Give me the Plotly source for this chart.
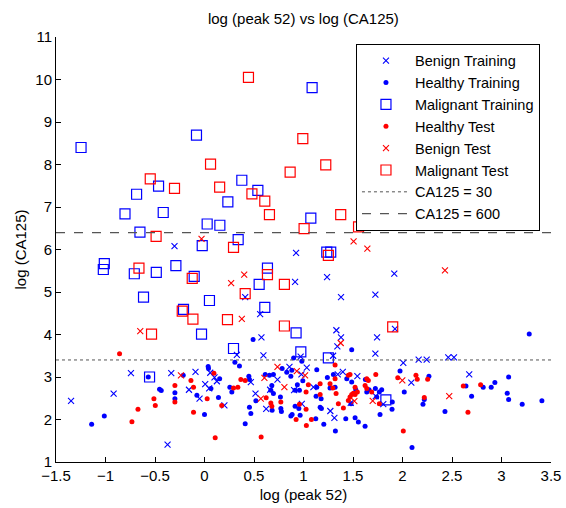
import plotly.graph_objects as go

# ---- data (log peak 52, log CA125) ----
benign_train_x = [-0.303, 0.925, 0.915, 1.238, 1.379, 1.726, 0.411, 0.562, 1.332, 1.379, 0.575, 1.743,
                  1.342, 0.327, 0.595, 0.971, 1.299, 1.726, 1.917, 1.924, 2.163, 2.244, 2.462, 2.520,
                  -1.348, -0.918, -0.743, -0.336, -0.373, -0.091, -0.157, -0.050, 0.007, 0.047, 0.058,
                  0.101, 0.125, 0.201, 0.468, 0.515, 0.663, 0.737, 0.858, 0.979, 1.033, 0.905, 0.983,
                  1.100, 0.623, 1.271, 1.312, 1.346, 1.397, 1.544, 1.477, 1.730, 1.806, 2.008, 2.089, 2.674]
benign_train_y = [6.08, 5.92, 5.24, 5.35, 4.88, 4.94, 4.88, 4.48, 4.10, 3.93, 3.93, 3.93,
                  3.72, 3.52, 3.51, 3.48, 3.50, 3.55, 5.43, 4.13, 3.41, 3.41, 3.46, 3.46,
                  2.44, 2.61, 3.09, 3.09, 1.41, 3.12, 2.70, 2.49, 2.83, 2.73, 3.10,
                  2.99, 2.90, 2.33, 2.88, 2.61, 2.70, 2.94, 3.24, 3.06, 3.22, 2.69, 2.37,
                  2.76, 2.25, 2.20, 2.04, 3.06, 3.12, 3.02, 2.39, 2.55, 2.36, 3.33, 2.87, 3.06]

healthy_train_x = [0.491, 1.487, 0.900, 3.280, 2.096, -0.568, -0.454, -0.437, -0.299, -0.299, -1.012, -1.140,
                   -0.215, -0.077, 0.000, 0.037, 0.040, 0.153, 0.065, 0.141, 0.256, 0.307, 0.353, 0.983,
                   1.134, 0.784, 0.831, 0.882, 0.872, 0.613, 0.656, 0.696, 0.448, 0.454, 0.276, 0.680,
                   0.670, 0.696, 0.938, 0.993, 0.915, 0.959, 1.134, 1.241, 1.302, 1.268, 1.319, 1.127,
                   1.178, 1.168, 1.181, 1.437, 1.487, 1.528, 1.480, 1.625, 1.639, 1.662, 1.726, 1.766,
                   1.790, 1.740, 1.773, 1.622, 1.554, 1.521, 1.427, 1.322, 1.205, 1.124, 0.966, 0.885,
                   0.872, 0.953, 0.915, 0.771, 0.777, 0.767, 0.683, 0.519, 0.454, 0.468, 0.411, 1.897,
                   1.894, 1.975, 2.018, 2.267, 2.220, 2.207, 2.429, 2.641, 2.698, 2.815, 2.896, 2.933,
                   3.072, 3.058, 3.072, 3.209, 3.408]
healthy_train_y = [3.88, 3.64, 3.45, 4.01, 1.34, 3.00, 2.71, 2.68, 2.63, 2.49, 2.08, 1.89,
                   3.04, 2.57, 2.12, 3.25, 3.20, 2.96, 2.73, 2.52, 2.76, 3.35, 3.26, 3.37,
                   3.17, 3.20, 3.11, 3.16, 3.02, 3.06, 3.04, 3.06, 3.02, 2.94, 2.65, 2.80,
                   2.69, 2.61, 2.82, 2.91, 2.69, 2.69, 2.76, 2.99, 3.06, 2.74, 2.76, 2.55,
                   2.49, 2.29, 2.26, 2.96, 2.88, 2.70, 2.37, 2.94, 2.65, 2.70, 2.73, 2.65,
                   2.70, 2.53, 2.12, 1.84, 1.94, 2.04, 2.02, 1.73, 1.89, 2.02, 2.10, 2.12,
                   2.08, 2.26, 2.31, 2.26, 2.19, 2.53, 2.22, 2.44, 2.29, 2.14, 1.90, 2.41,
                   2.24, 3.14, 2.65, 3.02, 2.47, 2.36, 2.19, 2.79, 2.55, 2.76, 2.76, 2.87,
                   3.00, 2.62, 2.47, 2.36, 2.44]

malig_train_x = [-1.247, -0.081, 1.087, 0.377, -0.464, -0.686, 0.539, 0.236, -0.803, -0.417, 0.027, 0.155,
                 -0.652, 0.340, -0.023, 1.074, -1.012, -1.022, -0.709, -0.487, -0.289, -0.104, -0.616,
                 0.050, -0.212, -0.030, 0.293, 0.636, 0.552, 0.609, 0.925, 1.235, 1.275, 0.973, 1.251,
                 -0.555, 1.832]
malig_train_y = [8.40, 8.69, 9.81, 7.63, 7.49, 7.30, 7.39, 7.12, 6.84, 6.87, 6.60, 6.57,
                 6.41, 6.23, 6.09, 6.74, 5.67, 5.53, 5.43, 5.46, 5.62, 5.37, 4.88,
                 4.80, 4.59, 4.01, 3.67, 5.56, 5.18, 4.64, 4.04, 5.94, 5.94, 3.59, 3.45,
                 3.00, 2.46]

healthy_test_x = [-0.858, -0.299, -0.299, -0.511, -0.497, -0.672, -0.733, -0.137, -0.111, -0.111, 0.027,
                  0.095, 0.174, 0.108, 1.319, 0.367, 0.411, 0.293, 0.337, 1.049, 1.026, 1.168, 1.268,
                  1.319, 1.296, 1.329, 1.168, 1.352, 1.403, 1.453, 1.470, 1.521, 1.504, 1.487, 1.521,
                  1.544, 1.470, 1.453, 1.639, 1.655, 1.730, 1.622, 1.639, 1.689, 1.766, 1.080, 1.029,
                  0.925, 1.026, 0.959, 0.771, 0.670, 0.680, 0.623, 0.572, 1.952, 2.136, 2.149, 2.254,
                  2.220, 2.008, 2.614, 2.661, 2.789]
healthy_test_y = [3.55, 2.80, 2.41, 2.49, 2.33, 2.24, 1.95, 2.92, 2.76, 2.17, 2.49,
                  3.09, 2.33, 1.57, 3.28, 2.94, 2.92, 2.74, 2.76, 2.82, 2.65, 2.84, 2.84,
                  2.96, 2.74, 2.61, 2.59, 2.37, 2.27, 3.04, 3.06, 2.76, 2.62, 2.59, 2.59,
                  2.65, 2.53, 2.45, 2.96, 2.92, 3.06, 2.80, 2.73, 2.65, 2.37, 2.00, 1.86,
                  2.00, 2.24, 2.36, 2.41, 2.39, 2.31, 2.51, 1.59, 2.98, 3.04, 2.95, 2.95,
                  2.52, 1.73, 2.79, 2.17, 2.82]

benign_test_x = [-0.030, 1.506, -0.649, 0.269, 1.645, 0.401, 0.377, 1.376, 2.429, -0.238, 0.737,
                 0.932, 1.016, 0.605, 0.807, 0.569, 1.514, 1.699, 1.998, 2.472]
benign_test_y = [6.25, 6.19, 4.08, 5.21, 6.02, 5.41, 4.37, 3.80, 5.51, 3.04, 3.24,
                 3.14, 3.04, 2.98, 2.76, 2.49, 2.43, 2.44, 2.92, 2.55]

malig_test_x = [0.444, 0.061, -0.548, -0.303, 0.153, 0.479, -0.489, 0.293, 0.993, 1.225, 0.865, 0.609,
                0.656, 1.376, 1.006, 1.556, -0.662, -0.124, -0.225, -0.117, -0.535, 0.232, 0.636,
                0.807, 0.411, 0.807, 1.251, 1.901]
malig_test_y = [10.05, 8.01, 7.66, 7.44, 7.47, 7.31, 6.31, 6.05, 8.61, 7.99, 7.82, 7.14,
                6.82, 6.82, 6.49, 6.53, 5.56, 5.32, 4.55, 4.36, 4.01, 4.35, 5.41,
                5.18, 4.96, 4.20, 5.86, 4.18]

x_range = [-1.5, 3.5]
cut_low = 3.401   # log(30)
cut_high = 6.397  # log(600)

BLUE = "rgb(0,0,255)"
RED = "rgb(255,0,0)"
FAMILY = "Liberation Sans, Arial, sans-serif"

fig = go.Figure()

def xs(name, x, y, color, group):
    fig.add_trace(go.Scatter(x=x, y=y, mode="markers", name=name, legendgroup=group,
                             marker=dict(symbol="x-thin", size=6, color=color,
                                         line=dict(width=1.1, color=color))))

def dots(name, x, y, color, group):
    fig.add_trace(go.Scatter(x=x, y=y, mode="markers", name=name, legendgroup=group,
                             marker=dict(symbol="circle", size=5, color=color,
                                         line=dict(width=0))))

def squares(name, x, y, color, group):
    fig.add_trace(go.Scatter(x=x, y=y, mode="markers", name=name, legendgroup=group,
                             marker=dict(symbol="square-open", size=10, color=color,
                                         line=dict(width=1.2, color=color))))

xs("Benign Training", benign_train_x, benign_train_y, BLUE, "g1")
dots("Healthy Training", healthy_train_x, healthy_train_y, BLUE, "g2")
squares("Malignant Training", malig_train_x, malig_train_y, BLUE, "g3")
dots("Healthy Test", healthy_test_x, healthy_test_y, RED, "g4")
xs("Benign Test", benign_test_x, benign_test_y, RED, "g5")
squares("Malignant Test", malig_test_x, malig_test_y, RED, "g6")

fig.add_trace(go.Scatter(x=x_range, y=[cut_low, cut_low], mode="lines", name="CA125 = 30",
                         legendgroup="g7", line=dict(color="#555555", width=1, dash="dot")))
fig.add_trace(go.Scatter(x=x_range, y=[cut_high, cut_high], mode="lines", name="CA125 = 600",
                         legendgroup="g8", line=dict(color="#555555", width=1.2, dash="dash")))

fig.update_layout(
    width=566, height=508,
    margin=dict(l=56, r=15, t=37, b=46, autoexpand=False),
    paper_bgcolor="white", plot_bgcolor="white",
    font=dict(family=FAMILY, size=15, color="black"),
    title=dict(text="log (peak 52) vs log (CA125)", x=0.536, xanchor="center",
               y=1 - 19 / 508, yref="container", yanchor="middle",
               font=dict(family=FAMILY, size=15), automargin=False),
    showlegend=True,
    legend=dict(x=0.606, xanchor="left", y=0.984, yanchor="top",
                bgcolor="white", bordercolor="black", borderwidth=1,
                font=dict(family=FAMILY, size=14.5),
                tracegroupgap=0, itemwidth=48),
    xaxis=dict(range=x_range, dtick=0.5, tick0=-1.5, showgrid=False, zeroline=False,
               showline=True, linecolor="black", linewidth=1, ticks="inside", ticklen=5,
               tickcolor="black", mirror=False, automargin=False,
               tickfont=dict(family=FAMILY, size=15),
               title=dict(text="log (peak 52)", standoff=6, font=dict(family=FAMILY, size=15))),
    yaxis=dict(range=[1, 11], dtick=1, showgrid=False, zeroline=False,
               showline=True, linecolor="black", linewidth=1, ticks="inside", ticklen=5,
               tickcolor="black", mirror=False, automargin=False,
               tickfont=dict(family=FAMILY, size=15)),
    annotations=[dict(text="log (CA125)", xref="paper", yref="paper", x=0, y=0.5,
                      xshift=-36, xanchor="center", yanchor="middle", textangle=-90,
                      showarrow=False, font=dict(family=FAMILY, size=15))],
)

fig.write_html("out.html", config={"displayModeBar": False},
               post_script="document.body.style.margin='0';")
